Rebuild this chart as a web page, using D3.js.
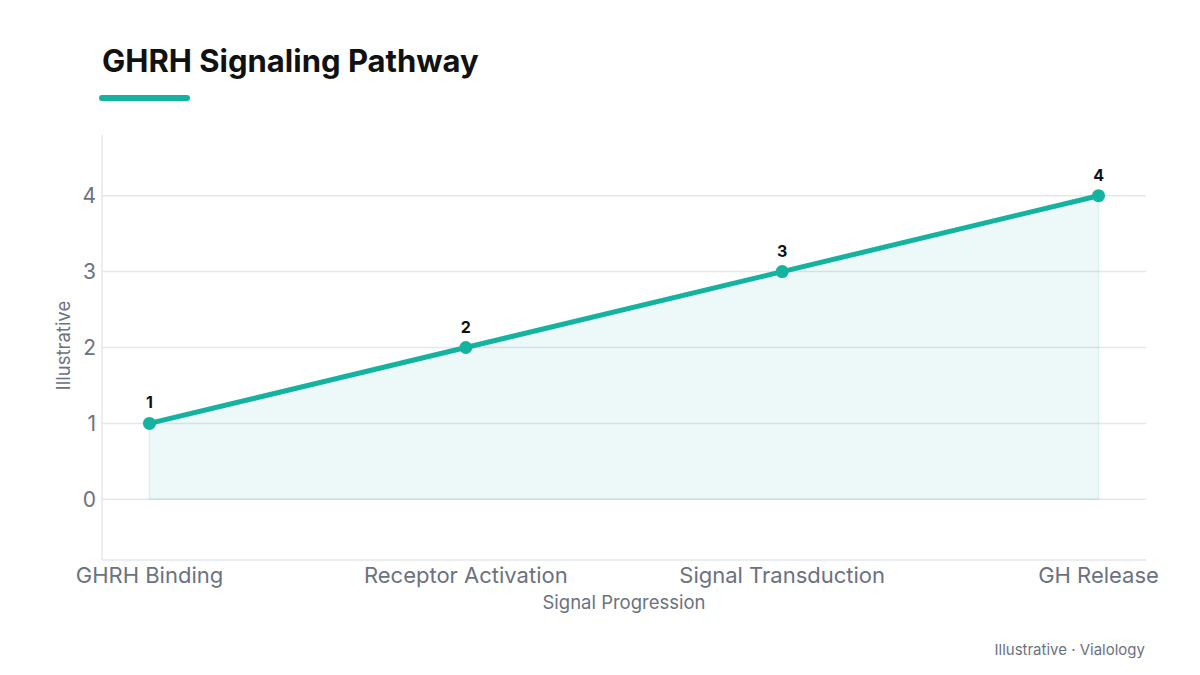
<!DOCTYPE html>
<html>
<head>
<meta charset="utf-8">
<script src="https://cdn.jsdelivr.net/npm/d3@7"></script>
<style>
  body { margin: 0; background: #fff; font-family: Inter, "Noto Sans", sans-serif; }
  .grid line { stroke: #e5e7eb; stroke-width: 1.5; }
  .tick-label { fill: #6b7280; }
</style>
</head>
<body>
<div id="chart"></div>
<script>
// chart data
const steps = ['GHRH Binding', 'Receptor Activation', 'Signal Transduction', 'GH Release'];
const values = [1, 2, 3, 4];
const yTicks = [0, 1, 2, 3, 4];

const config = {
  width: 1200,
  height: 675,
  margin: {top: 135, right: 54, bottom: 115, left: 102},
  accent: '#14b3a0'
};

const svg = d3.select('#chart').append('svg')
    .attr('width', config.width)
    .attr('height', config.height);

const innerW = config.width - config.margin.left - config.margin.right;
const innerH = config.height - config.margin.top - config.margin.bottom;

// title + accent bar
svg.append('text')
    .attr('x', 102)
    .attr('y', 72)
    .attr('font-size', 31)
    .attr('font-weight', 700)
    .attr('fill', '#111')
    .text('GHRH Signaling Pathway');

svg.append('rect')
    .attr('x', 99).attr('y', 95)
    .attr('width', 91).attr('height', 6)
    .attr('rx', 3)
    .attr('fill', config.accent);

const chart = svg.append('g')
    .attr('transform', `translate(${config.margin.left},${config.margin.top})`);

const x = d3.scalePoint()
    .domain(steps)
    .range([0, innerW])
    .padding(0.15);

const y = d3.scaleLinear()
    .domain([-0.8, 4.8])
    .range([innerH, 0]);

// gridlines
chart.append('g')
    .attr('class', 'grid')
    .selectAll('line')
    .data(yTicks)
  .join('line')
    .attr('x1', 0)
    .attr('x2', innerW)
    .attr('y1', d => y(d))
    .attr('y2', d => y(d));

// axis frame lines
chart.append('line')
    .attr('x1', 0).attr('x2', 0)
    .attr('y1', 0).attr('y2', innerH)
    .attr('stroke', '#e5e7eb').attr('stroke-width', 1.5);
chart.append('line')
    .attr('x1', 0).attr('x2', innerW)
    .attr('y1', innerH).attr('y2', innerH)
    .attr('stroke', '#e5e7eb').attr('stroke-width', 1.5);

// y tick labels
chart.selectAll('.y-label')
    .data(yTicks)
  .join('text')
    .attr('class', 'tick-label')
    .attr('x', -6)
    .attr('y', d => y(d))
    .attr('dy', '0.35em')
    .attr('text-anchor', 'end')
    .attr('font-size', 21)
    .text(d => d);

// x tick labels
chart.selectAll('.x-label')
    .data(steps)
  .join('text')
    .attr('class', 'tick-label')
    .attr('x', d => x(d))
    .attr('y', innerH + 23)
    .attr('text-anchor', 'middle')
    .attr('font-size', 22)
    .text(d => d);

// axis titles
chart.append('text')
    .attr('x', innerW / 2)
    .attr('y', innerH + 49)
    .attr('text-anchor', 'middle')
    .attr('font-size', 18.5)
    .attr('fill', '#6b7280')
    .text('Signal Progression');

chart.append('text')
    .attr('transform', `translate(-32,${innerH / 2 - 2}) rotate(-90)`)
    .attr('text-anchor', 'middle')
    .attr('font-size', 18.5)
    .attr('fill', '#6b7280')
    .text('Illustrative');

const pts = steps.map((s, i) => ({step: s, value: values[i]}));

// area under the line
const area = d3.area()
    .x(d => x(d.step))
    .y0(y(0))
    .y1(d => y(d.value));

chart.append('path')
    .datum(pts)
    .attr('d', area)
    .attr('fill', config.accent)
    .attr('fill-opacity', 0.08)
    .attr('stroke', config.accent)
    .attr('stroke-opacity', 0.12)
    .attr('stroke-width', 1.5);

const line = d3.line()
    .x(d => x(d.step))
    .y(d => y(d.value));

chart.append('path')
    .datum(pts)
    .attr('d', line)
    .attr('fill', 'none')
    .attr('stroke', config.accent)
    .attr('stroke-width', 5)
    .attr('stroke-linecap', 'round');

chart.selectAll('.dot')
    .data(pts)
  .join('circle')
    .attr('cx', d => x(d.step))
    .attr('cy', d => y(d.value))
    .attr('r', 6.5)
    .attr('fill', config.accent);

chart.selectAll('.value-label')
    .data(pts)
  .join('text')
    .attr('x', d => x(d.step))
    .attr('y', d => y(d.value) - 15)
    .attr('text-anchor', 'middle')
    .attr('font-size', 16)
    .attr('font-weight', 700)
    .attr('fill', '#111')
    .text(d => d.value);

// footer
svg.append('text')
    .attr('x', 1145)
    .attr('y', 655)
    .attr('text-anchor', 'end')
    .attr('font-size', 15)
    .attr('fill', '#6b7280')
    .text('Illustrative · Vialology');
</script>
</body>
</html>
